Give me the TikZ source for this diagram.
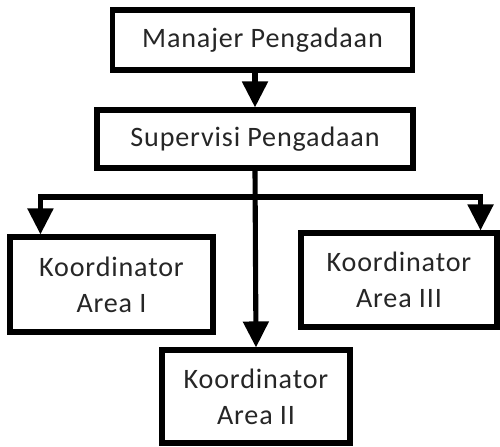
\documentclass[tikz,border=0pt]{standalone}
\usepackage{fontspec}
\setmainfont{Carlito}[LetterSpace=3]
\usetikzlibrary{arrows.meta, calc}
\tikzset{
  every picture/.style={line width=2.9pt},
  box/.style={draw=black, fill=white, align=center, inner sep=0pt, text=black!85, font=\fontsize{16}{20.5}\selectfont},
  arrow/.style={-{Triangle[length=0.52cm, width=0.5cm]}, draw=black, line width=2.9pt},
}
\begin{document}
\begin{tikzpicture}[x=0.02cm, y=-0.02cm]
  \useasboundingbox (0,0) rectangle (500,446);
  \node[box, minimum width=300*0.02cm, minimum height=60*0.02cm] (mgr) at (262.5,40) {Manajer Pengadaan};
  \node[box, minimum width=316*0.02cm, minimum height=58*0.02cm] (sup) at (255,139) {Supervisi Pengadaan};
  \node[box, minimum width=203*0.02cm, minimum height=95*0.02cm] (area1) at (111.5,284.5) {Koordinator\\Area I};
  \node[box, minimum width=196*0.02cm, minimum height=94*0.02cm] (area3) at (399,280) {Koordinator\\Area III};
  \node[box, minimum width=188*0.02cm, minimum height=93*0.02cm] (area2) at (256,396.5) {Koordinator\\Area II};
  \coordinate (split) at (255,197);
  \draw[arrow] (sup.north |- mgr.south) -- (sup.north);
  \draw[arrow] (sup.south) -- (area2.north);
  \draw[arrow] (split) -| ($(area1.north west)+(33,0)$);
  \draw[arrow] (split) -| ($(area3.north east)+(-19,0)$);
\end{tikzpicture}
\end{document}
